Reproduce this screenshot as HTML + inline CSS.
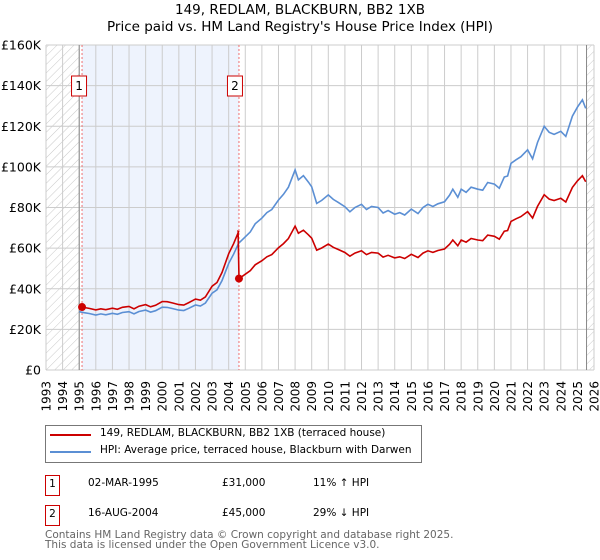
<!DOCTYPE html>
<html><head><meta charset="utf-8"><style>
body{margin:0;background:#fff;font-family:"DejaVu Sans","Liberation Sans",sans-serif;}
#wrap{position:relative;width:600px;height:560px;overflow:hidden;}
.t{position:absolute;font-size:10.5px;color:#000;white-space:nowrap;}
</style></head><body>
<div id="wrap">
<svg id="chart" width="600" height="560" style="position:absolute;left:0;top:0">
<defs><pattern id="hatch" width="6" height="6" patternUnits="userSpaceOnUse" patternTransform="rotate(45)"><line x1="0" y1="0" x2="0" y2="6" stroke="#bbb" stroke-width="0.8"/></pattern></defs>
<text x="300" y="14" text-anchor="middle" font-size="13.5" font-family="DejaVu Sans, sans-serif">149, REDLAM, BLACKBURN, BB2 1XB</text>
<text x="300" y="31" text-anchor="middle" font-size="13.5" font-family="DejaVu Sans, sans-serif">Price paid vs. HM Land Registry's House Price Index (HPI)</text>
<g id="g"></g>
</svg>
<div style="position:absolute;left:45px;top:425px;width:375px;height:36px;border:1px solid #777;">
 <div style="position:absolute;left:4px;top:8px;width:41px;height:2px;background:#cc0000"></div>
 <div class="t" style="left:54px;top:1px">149, REDLAM, BLACKBURN, BB2 1XB (terraced house)</div>
 <div style="position:absolute;left:4px;top:25px;width:41px;height:2px;background:#5b8fd4"></div>
 <div class="t" style="left:54px;top:18px">HPI: Average price, terraced house, Blackburn with Darwen</div>
</div>
<div style="position:absolute;left:45px;top:475px;width:13px;height:19px;border:1px solid #cc0000;font-size:10.5px;text-align:center;line-height:17px">1</div>
<div class="t" style="left:88px;top:476px;line-height:14px">02-MAR-1995</div>
<div class="t" style="left:222px;top:476px;line-height:14px">£31,000</div>
<div class="t" style="left:313px;top:476px;line-height:14px">11% ↑ HPI</div>
<div style="position:absolute;left:45px;top:505px;width:13px;height:19px;border:1px solid #cc0000;font-size:10.5px;text-align:center;line-height:17px">2</div>
<div class="t" style="left:88px;top:506px;line-height:14px">16-AUG-2004</div>
<div class="t" style="left:222px;top:506px;line-height:14px">£45,000</div>
<div class="t" style="left:313px;top:506px;line-height:14px">29% ↓ HPI</div>
<div class="t" style="left:45px;top:530px;color:#666;line-height:10px">Contains HM Land Registry data © Crown copyright and database right 2025.<br>This data is licensed under the Open Government Licence v3.0.</div>
</div>
<script>
const yTicks=[0,20000,40000,60000,80000,100000,120000,140000,160000];
const yTickLabels=["£0","£20K","£40K","£60K","£80K","£100K","£120K","£140K","£160K"];
const years=[1993,1994,1995,1996,1997,1998,1999,2000,2001,2002,2003,2004,2005,2006,2007,2008,2009,2010,2011,2012,2013,2014,2015,2016,2017,2018,2019,2020,2021,2022,2023,2024,2025,2026];
const hpiTimes=[1995.0,1995.3,1995.6,1996.0,1996.3,1996.6,1997.0,1997.3,1997.6,1998.0,1998.3,1998.6,1999.0,1999.3,1999.6,2000.0,2000.3,2000.6,2001.0,2001.3,2001.6,2002.0,2002.3,2002.6,2003.0,2003.3,2003.6,2004.0,2004.3,2004.6,2005.0,2005.3,2005.6,2006.0,2006.3,2006.6,2007.0,2007.3,2007.6,2008.0,2008.2,2008.5,2008.8,2009.0,2009.3,2009.6,2010.0,2010.3,2010.6,2011.0,2011.3,2011.6,2012.0,2012.3,2012.6,2013.0,2013.3,2013.6,2014.0,2014.3,2014.6,2015.0,2015.4,2015.7,2016.0,2016.3,2016.6,2017.0,2017.3,2017.5,2017.8,2018.0,2018.3,2018.6,2019.0,2019.3,2019.6,2020.0,2020.3,2020.6,2020.8,2021.0,2021.3,2021.6,2022.0,2022.3,2022.6,2023.0,2023.3,2023.6,2024.0,2024.3,2024.7,2025.0,2025.3,2025.5];
const hpiValues=[28700,28200,27800,27100,27600,27200,27900,27400,28300,28700,27600,28800,29500,28500,29200,30900,30800,30300,29500,29300,30400,32000,31500,33000,37800,39500,44000,52500,57000,62400,65600,68000,72000,74800,77500,79000,83700,86500,90000,98500,93600,95700,92500,90200,82000,83500,86200,84000,82500,80400,77900,80000,81600,79000,80500,80000,77300,78500,76700,77500,76300,79200,77000,80000,81600,80500,81800,82800,86000,89000,85000,89000,87500,90000,89000,88500,92300,91500,89500,95000,95500,101700,103500,105000,108400,104000,112000,120000,117000,116000,117500,115000,125000,129400,133000,128800];
const saleTimes=[1995.17,2004.62];
const salePrices=[31000,45000];
const saleLabels=["1","2"];

const NS="http://www.w3.org/2000/svg";
const g=document.getElementById('g');
const X0=46,X1=594,Y0=370,Y1=45;
const FF='DejaVu Sans, sans-serif';
const xs=t=>X0+(t-1993)/(2026-1993)*(X1-X0);
const ys=v=>Y0-v/160000*(Y0-Y1);
function el(tag,attrs,parent){const e=document.createElementNS(NS,tag);for(const k in attrs)e.setAttribute(k,attrs[k]);(parent||g).appendChild(e);return e;}
function interp(t){for(let i=0;i<hpiTimes.length-1;i++){if(t>=hpiTimes[i]&&t<=hpiTimes[i+1]){const f=(t-hpiTimes[i])/(hpiTimes[i+1]-hpiTimes[i]);return hpiValues[i]+f*(hpiValues[i+1]-hpiValues[i]);}}return t<hpiTimes[0]?hpiValues[0]:hpiValues[hpiValues.length-1];}

let r=el('rect',{x:X0,y:Y1,width:X1-X0,height:Y0-Y1,fill:'#fff'});


r=el('rect',{x:xs(saleTimes[0]),y:Y1,width:xs(saleTimes[1])-xs(saleTimes[0]),height:Y0-Y1,fill:'#eef3fd'});


r=el('rect',{x:X0,y:Y1,width:xs(1995)-X0,height:Y0-Y1,fill:'url(#hatch)'});


r=el('rect',{x:xs(2025.55),y:Y1,width:X1-xs(2025.55),height:Y0-Y1,fill:'url(#hatch)'});



yTicks.forEach((v,i)=>{
 const l=el('line',{x1:X0,x2:X1,y1:ys(v),y2:ys(v),stroke:'#ccc','stroke-width':1});
 
 
 const t=el('text',{x:41,y:ys(v)+4.5,'text-anchor':'end','font-size':12.5,'font-family':FF});
 t.textContent=yTickLabels[i];
 
 
});
years.forEach(y=>{
 const l=el('line',{x1:xs(y),x2:xs(y),y1:Y1,y2:Y0,stroke:'#ccc','stroke-width':1});
 
 
 const t=el('text',{x:0,y:0,'text-anchor':'end','font-size':12,'font-family':FF,transform:`translate(${xs(y)+4.5},381) rotate(-90)`});
 t.textContent=String(y);
 
 
});
[1995,2025.55].forEach(t=>{
 const l=el('line',{x1:xs(t),x2:xs(t),y1:Y1,y2:Y0,stroke:'#888','stroke-width':1});
 
 
});
saleTimes.forEach(t=>{
 const l=el('line',{x1:xs(t),x2:xs(t),y1:Y1,y2:Y0,stroke:'#f07070','stroke-width':1,'stroke-dasharray':'2,2'});
 
 
});

let d=hpiTimes.map((t,i)=>(i?'L':'M')+xs(t).toFixed(1)+','+ys(hpiValues[i]).toFixed(1)).join('');
let p=el('path',{d:d,fill:'none',stroke:'#5b8fd4','stroke-width':1.6});



const f1=salePrices[0]/interp(saleTimes[0]),f2=salePrices[1]/interp(saleTimes[1]);
let pts=[[saleTimes[0],salePrices[0]]];
hpiTimes.forEach((t,i)=>{if(t>saleTimes[0]&&t<saleTimes[1])pts.push([t,hpiValues[i]*f1]);});
pts.push([saleTimes[1]-0.05,interp(saleTimes[1])*f1]);
pts.push([saleTimes[1],salePrices[1]]);
hpiTimes.forEach((t,i)=>{if(t>saleTimes[1])pts.push([t,hpiValues[i]*f2]);});
d=pts.map((q,i)=>(i?'L':'M')+xs(q[0]).toFixed(1)+','+ys(q[1]).toFixed(1)).join('');
p=el('path',{d:d,fill:'none',stroke:'#cc0000','stroke-width':1.6});



saleTimes.forEach((t,i)=>{
 const c=el('circle',{cx:xs(t),cy:ys(salePrices[i]),r:4,fill:'#cc0000'});
 
 
 const bx=xs(t)-(i===0?3:4);
 const b=el('rect',{x:bx-7.5,y:76,width:15,height:20,fill:'#fff',stroke:'#cc0000','stroke-width':1});
 
 
 const tx=el('text',{x:bx,y:90,'text-anchor':'middle','font-size':12,'font-family':FF});
 tx.textContent=saleLabels[i];
 
 
});
</script>
</body></html>
